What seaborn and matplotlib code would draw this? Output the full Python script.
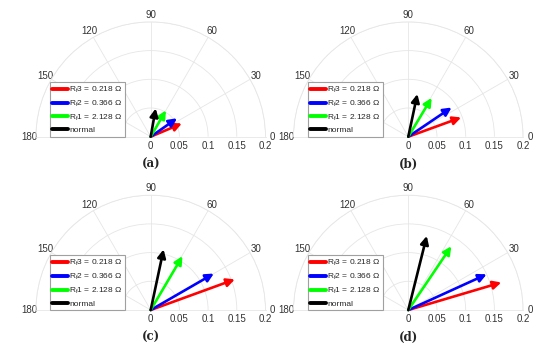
import numpy as np
import seaborn as sns
import matplotlib.pyplot as plt
from matplotlib.lines import Line2D

# legend labels and colours, in legend order
labels = ["R$_f$3 = 0.218 \u03a9", "R$_f$2 = 0.366 \u03a9", "R$_f$1 = 2.128 \u03a9", "normal"]
colors = ["#ff0000", "#0000ff", "#00ff00", "#000000"]
panels = ["(a)", "(b)", "(c)", "(d)"]

# vector angles (degrees) and magnitudes
angle_a = [23, 35, 60, 80]
mag_a = [0.059, 0.056, 0.053, 0.050]
angle_b = [20, 34, 59, 78]
mag_b = [0.098, 0.091, 0.079, 0.076]
angle_c = [20, 30, 59.5, 78]
mag_c = [0.156, 0.127, 0.109, 0.108]
angle_d = [16.5, 24.5, 56, 76]
mag_d = [0.169, 0.150, 0.134, 0.133]

angles = [angle_a, angle_b, angle_c, angle_d]
mags = [mag_a, mag_b, mag_c, mag_d]

r_ticks = [0, 0.05, 0.1, 0.15, 0.2]
theta_ticks = [0, 30, 60, 90, 120, 150, 180]

sns.set_theme(style="white")
plt.rcParams["font.family"] = ["Liberation Sans", "DejaVu Sans"]
plt.rcParams["mathtext.fontset"] = "custom"
plt.rcParams["mathtext.rm"] = "Liberation Sans"
plt.rcParams["mathtext.it"] = "Liberation Sans"

fig = plt.figure(figsize=(5.5, 3.5), dpi=100)

# origin of each half-disc (px) and radius
origins = [(150.7, 136.7), (408.3, 136.7), (150.7, 310.0), (408.3, 310.0)]
radius = 114.8

for k in range(4):
    ox, oy = origins[k]
    # polar axes keeps a square box; the half-disc sits in its middle
    rect = [(ox - radius) / 550, (350 - oy - radius / 2) / 350,
            2 * radius / 550, 2 * radius / 350]
    ax = fig.add_axes(rect, projection="polar")
    ax.set_thetamin(0)
    ax.set_thetamax(180)
    ax.set_ylim(0, 0.2)
    ax.set_xticks(np.deg2rad(theta_ticks))
    ax.set_xticklabels([str(t) for t in theta_ticks])
    ax.set_yticks(r_ticks)
    ax.set_yticklabels([f"{r:g}" for r in r_ticks])
    ax.tick_params(axis="x", pad=-2, length=0, labelsize=7, labelcolor="#333333")
    ax.tick_params(axis="y", pad=3, length=0, labelsize=7, labelcolor="#333333")
    ax.grid(True, color="#e6e6e6", lw=0.6)
    for s in ax.spines.values():
        s.set_color("#e6e6e6")
        s.set_linewidth(0.6)

    for col, th, m in zip(colors, angles[k], mags[k]):
        t = np.deg2rad(th)
        ax.annotate("", xy=(t, m), xytext=(t, 0),
                    arrowprops=dict(arrowstyle="-|>", color=col, lw=1.9,
                                    mutation_scale=12, shrinkA=0, shrinkB=0))

    handles = [Line2D([], [], color=c, lw=2.8) for c in colors]
    leg = ax.legend(handles, labels, loc="lower left", bbox_to_anchor=(0.061, 0.25),
                    fontsize=6.0, frameon=True, fancybox=False, handlelength=1.9,
                    handletextpad=0.15, borderpad=0.3, labelspacing=0.45,
                    borderaxespad=0, framealpha=1)
    leg.get_frame().set_edgecolor("#a0a0a0")
    leg.get_frame().set_linewidth(0.8)

    fig.text(ox / 550, 1 - (oy + 27.5) / 350, panels[k], ha="center", va="center",
             fontsize=8.5, family="DejaVu Serif", fontweight="bold")

fig.savefig("out.png", dpi=100)
